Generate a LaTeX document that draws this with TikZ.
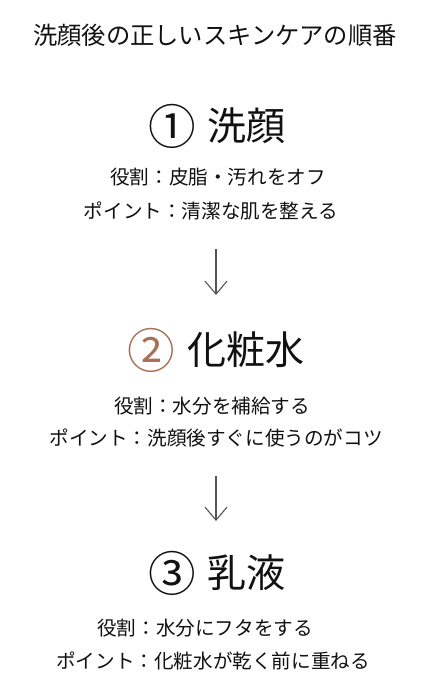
\documentclass[tikz,border=0pt]{standalone}
\usepackage{fontspec}
\setmainfont{Noto Sans CJK JP}
\usetikzlibrary{arrows.meta}
\definecolor{brownc}{HTML}{A86F55}
\definecolor{txt}{HTML}{111111}
\definecolor{arr}{HTML}{555555}
\newcommand{\circnum}[1]{\raisebox{-0.09em}{\scalebox{1.22}{#1}}}
\tikzset{
  titlet/.style={inner sep=0pt, text=txt, font=\fontsize{24.3}{28}\selectfont},
  body/.style={inner sep=0pt, text=txt, font=\fontsize{19.6}{22}\selectfont},
  head/.style={inner sep=0pt, text=txt, font=\fontsize{39}{44}\selectfont},
  flowarrow/.style={draw=arr, line width=1.1pt, -{Straight Barb[length=13pt,width=22pt,line width=1.1pt]}}
}
\begin{document}
\begin{tikzpicture}
\useasboundingbox[fill=white] (0pt,0pt) rectangle (433pt,-692pt);
\node[titlet] (title) at (215pt,-35pt) {洗顔後の正しいスキンケアの順番};

\node[head] (h1) at (217pt,-126pt) {\circnum{①}\hspace{0.3em}洗顔};
\node[body] (r1) at (218pt,-177pt) {役割：皮脂・汚れをオフ};
\node[body] (p1) at (211pt,-211pt) {ポイント：清潔な肌を整える};

\coordinate (a1s) at (216pt,-249pt);
\coordinate (a1e) at (216pt,-295pt);
\draw[flowarrow] (a1s) -- (a1e);

\node[head] (h2) at (216pt,-350pt) {\textcolor{brownc}{\circnum{②}}\hspace{0.3em}化粧水};
\node[body] (r2) at (212pt,-406pt) {役割：水分を補給する};
\node[body] (p2) at (216pt,-438pt) {ポイント：洗顔後すぐに使うのがコツ};

\coordinate (a2s) at (216pt,-476pt);
\coordinate (a2e) at (216pt,-521pt);
\draw[flowarrow] (a2s) -- (a2e);

\node[head] (h3) at (217pt,-573pt) {\circnum{③}\hspace{0.3em}乳液};
\node[body] (r3) at (205pt,-628pt) {役割：水分にフタをする};
\node[body] (p3) at (213pt,-661pt) {ポイント：化粧水が乾く前に重ねる};
\end{tikzpicture}
\end{document}
